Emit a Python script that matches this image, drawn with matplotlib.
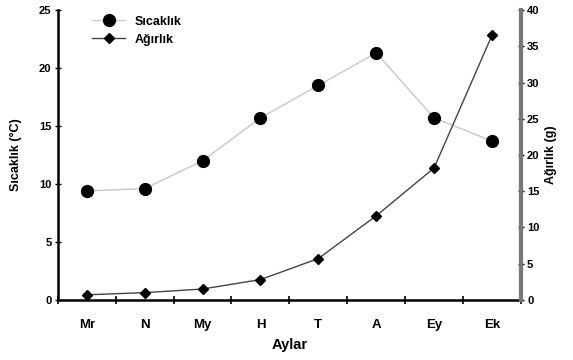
import matplotlib
matplotlib.use("Agg")
import matplotlib.pyplot as plt
from matplotlib.lines import Line2D

months = ["Mr", "N", "My", "H", "T", "A", "Ey", "Ek"]
temperature = [9.4, 9.6, 12.0, 15.7, 18.5, 21.3, 15.7, 13.7]
weight = [0.7, 1.0, 1.5, 2.8, 5.7, 11.6, 18.2, 36.5]

plt.rcParams['font.family'] = ['Liberation Sans', 'DejaVu Sans']
plt.rcParams['font.weight'] = 'bold'

fig = plt.figure(figsize=(5.73, 3.6), dpi=100)
ax = fig.add_axes([0.101, 0.167, 0.808, 0.805])
ax2 = ax.twinx()

x = list(range(len(months)))
ax.plot(x, temperature, color='#c8c8c8', lw=1.0, marker='o', ms=8.5,
        mfc='black', mec='black', zorder=3)
ax2.plot(x, weight, color='#444444', lw=1.0, marker='D', ms=5,
         mfc='black', mec='black', zorder=3)

ax.set_xlim(-0.5, len(months) - 0.5)
ax.set_ylim(0, 25)
ax2.set_ylim(0, 40)
ax.set_yticks([0, 5, 10, 15, 20, 25])
ax2.set_yticks([0, 5, 10, 15, 20, 25, 30, 35, 40])

ax.set_xticks([i - 0.5 for i in range(len(months) + 1)])
ax.set_xticklabels([])
ax.set_xticks(x, minor=True)
ax.set_xticklabels(months, minor=True, fontsize=9.5, fontweight='bold')
ax.tick_params(axis='x', which='minor', length=0, pad=14)
ax.tick_params(axis='x', which='major', direction='inout', length=6, width=1.2)

ax.tick_params(axis='y', direction='inout', length=5, width=1.0, labelsize=8, pad=2)
ax2.tick_params(axis='y', direction='inout', length=5, width=1.0, labelsize=8, pad=2,
                colors='black')

for a in (ax, ax2):
    a.spines['top'].set_visible(False)
ax.spines['left'].set_linewidth(1.8)
ax.spines['bottom'].set_linewidth(1.8)
ax2.spines['right'].set_linewidth(3.0)
ax2.spines['right'].set_color('#777777')
ax2.spines['left'].set_visible(False)
ax2.spines['bottom'].set_visible(False)

ax.set_xlabel("Aylar", fontsize=10.5, fontweight='bold', labelpad=5)
ax.set_ylabel("Sıcaklık (°C)", fontsize=9, fontweight='bold', labelpad=12)
ax2.set_ylabel("Ağırlık (g)", fontsize=9, fontweight='bold', labelpad=4)

handles = [
    Line2D([], [], color='#c8c8c8', lw=1.0, marker='o', ms=8.5, mfc='black', mec='black'),
    Line2D([], [], color='#444444', lw=1.0, marker='D', ms=5, mfc='black', mec='black'),
]
ax.legend(handles, ["Sıcaklık", "Ağırlık"], loc='upper left', frameon=False,
          prop={'weight': 'bold', 'size': 9},
          bbox_to_anchor=(0.05, 1.02), handlelength=2.6, labelspacing=0.5)

fig.savefig("out.png", dpi=100)
